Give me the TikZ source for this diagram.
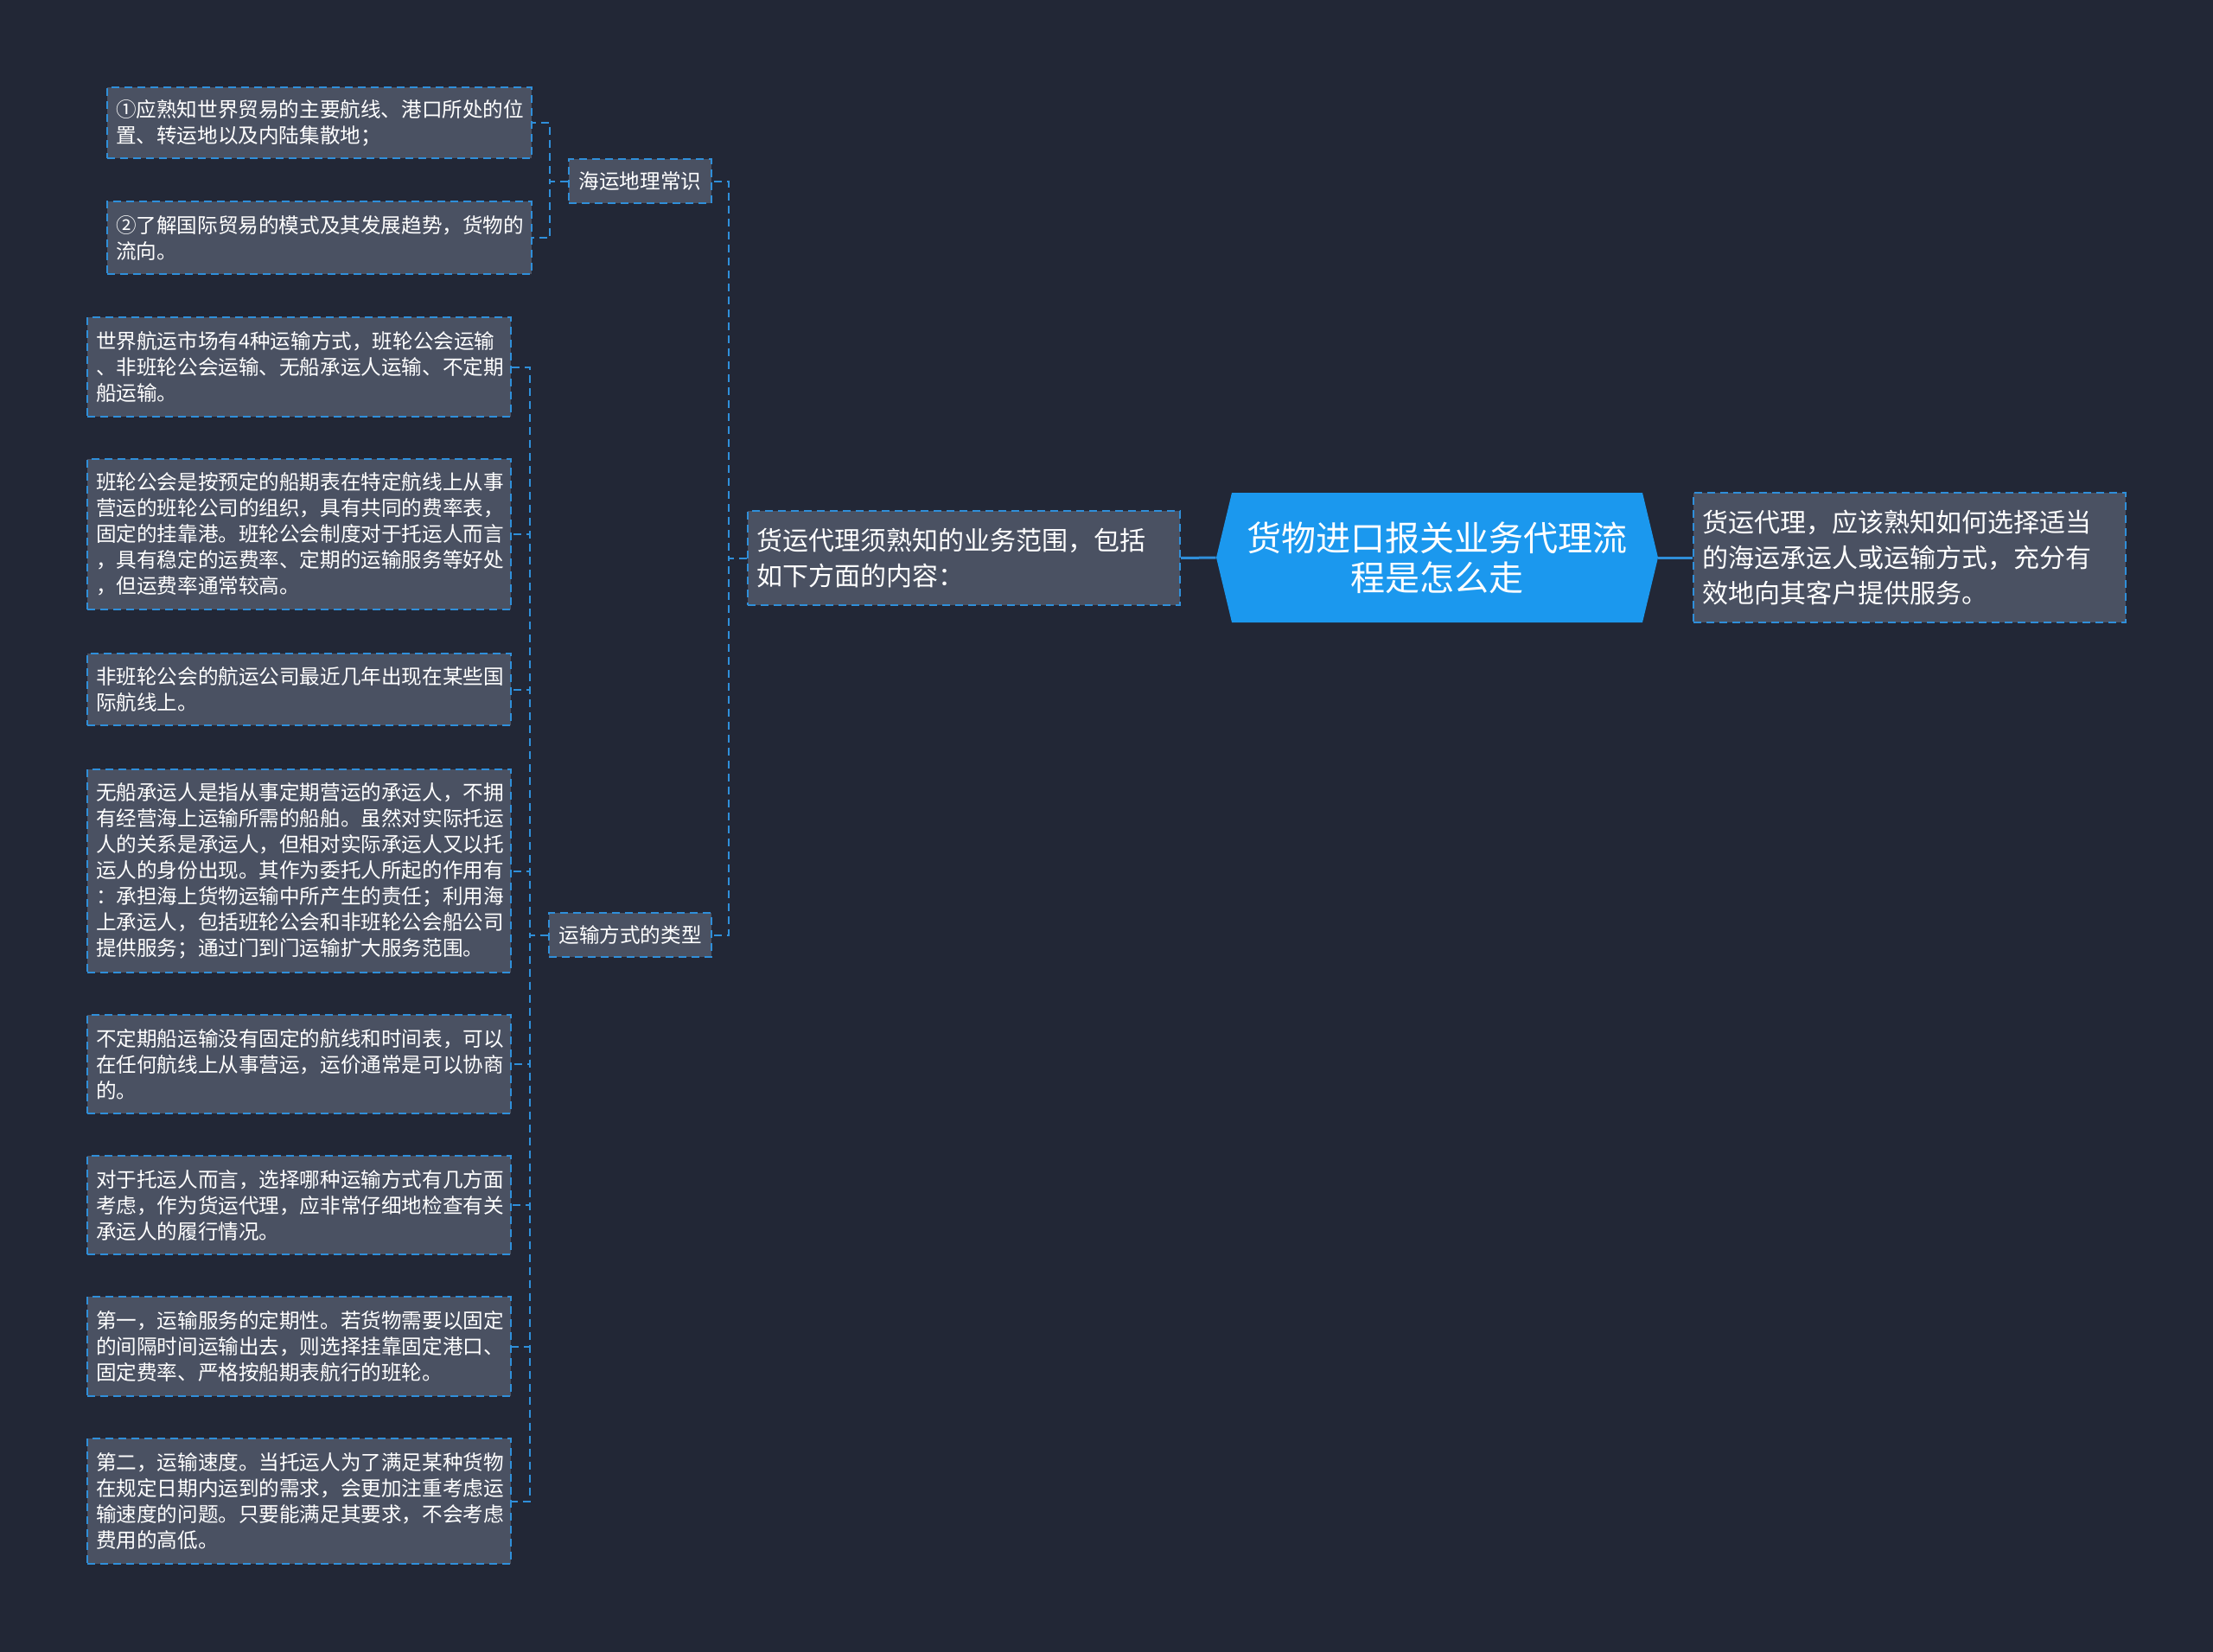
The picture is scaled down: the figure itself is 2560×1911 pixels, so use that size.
\documentclass[tikz,border=0pt]{standalone}
\usepackage{fontspec}
\setmainfont{Noto Sans CJK SC}
\usepackage{xcolor}
\usepackage{tikz}
\usetikzlibrary{shapes.symbols}

\definecolor{bgdark}{HTML}{222736}
\definecolor{boxgray}{HTML}{4A5162}
\definecolor{lineblue}{HTML}{2F8FDA}
\definecolor{rootblue}{HTML}{1B98EE}

\begin{document}
\begin{tikzpicture}[x=0.5pt, y=-0.5pt,
    leaf/.style={draw=lineblue, dash pattern=on 4.5pt off 3pt, line width=1pt, fill=boxgray, text=white,
      inner xsep=5pt, align=left, font=\fontsize{11.8pt}{15pt}\selectfont},
    topic/.style={draw=lineblue, dash pattern=on 4.5pt off 3pt, line width=1pt, fill=boxgray, text=white,
      inner xsep=5pt, align=left, font=\fontsize{15pt}{20.5pt}\selectfont},
    rootnode/.style={signal, signal to=west and east, signal pointer angle=153,
      fill=rootblue, text=white, align=center, inner sep=0pt,
      minimum width=255.5pt, minimum height=75pt,
      font=\fontsize{20pt}{23pt}\selectfont},
    conn/.style={draw=lineblue, dash pattern=on 4.5pt off 3pt, line width=1pt},
    mainconn/.style={draw=lineblue, line width=1.5pt},
  ]
    \fill[bgdark] (0,0) rectangle (2560,1911);

    \node[rootnode] (root) at (1662.5,645) {货物进口报关业务代理流\\程是怎么走};
    \node[topic, text width=240pt, minimum height=54.5pt] (scope) at (1115,645.5)
      {货运代理须熟知的业务范围，包括\\如下方面的内容：};
    \node[topic, text width=240pt, minimum height=75pt] (agent) at (2209,645)
      {货运代理，应该熟知如何选择适当\\的海运承运人或运输方式，充分有\\效地向其客户提供服务。};

    \node[leaf, minimum width=82.5pt, minimum height=25.5pt] (sea) at (740.5,209.5) {海运地理常识};
    \node[leaf, minimum width=94pt, minimum height=25.5pt] (mode) at (729,1081.5) {运输方式的类型};

    % sea knowledge
    \node[leaf, text width=235.5pt, minimum height=41pt] (s1) at (369.5,142)
      {①应熟知世界贸易的主要航线、港口所处的位\\置、转运地以及内陆集散地；};
    \node[leaf, text width=235.5pt, minimum height=42pt] (s2) at (369.5,275)
      {②了解国际贸易的模式及其发展趋势，货物的\\流向。};

    % transport modes
    \node[leaf, text width=235pt, minimum height=57.5pt] (m1) at (346,424.5)
      {世界航运市场有4种运输方式，班轮公会运输\\、非班轮公会运输、无船承运人运输、不定期\\船运输。};
    \node[leaf, text width=235pt, minimum height=87pt] (m2) at (346,618)
      {班轮公会是按预定的船期表在特定航线上从事\\营运的班轮公司的组织，具有共同的费率表，\\固定的挂靠港。班轮公会制度对于托运人而言\\，具有稳定的运费率、定期的运输服务等好处\\，但运费率通常较高。};
    \node[leaf, text width=235pt, minimum height=41.5pt] (m3) at (346,797.5)
      {非班轮公会的航运公司最近几年出现在某些国\\际航线上。};
    \node[leaf, text width=235pt, minimum height=117.5pt] (m4) at (346,1007.5)
      {无船承运人是指从事定期营运的承运人，不拥\\有经营海上运输所需的船舶。虽然对实际托运\\人的关系是承运人，但相对实际承运人又以托\\运人的身份出现。其作为委托人所起的作用有\\：承担海上货物运输中所产生的责任；利用海\\上承运人，包括班轮公会和非班轮公会船公司\\提供服务；通过门到门运输扩大服务范围。};
    \node[leaf, text width=235pt, minimum height=57pt] (m5) at (346,1231)
      {不定期船运输没有固定的航线和时间表，可以\\在任何航线上从事营运，运价通常是可以协商\\的。};
    \node[leaf, text width=235pt, minimum height=57pt] (m6) at (346,1394)
      {对于托运人而言，选择哪种运输方式有几方面\\考虑，作为货运代理，应非常仔细地检查有关\\承运人的履行情况。};
    \node[leaf, text width=235pt, minimum height=57.5pt] (m7) at (346,1557.5)
      {第一，运输服务的定期性。若货物需要以固定\\的间隔时间运输出去，则选择挂靠固定港口、\\固定费率、严格按船期表航行的班轮。};
    \node[leaf, text width=235pt, minimum height=72.5pt] (m8) at (346,1736.5)
      {第二，运输速度。当托运人为了满足某种货物\\在规定日期内运到的需求，会更加注重考虑运\\输速度的问题。只要能满足其要求，不会考虑\\费用的高低。};

    \draw[mainconn] (root.west) -- (scope.east);
    \draw[mainconn] (root.east) -- (agent.west);

    \foreach \n in {sea, mode}
      \draw[conn] (scope.west) -- ++(-21,0) |- (\n.east);
    \foreach \n in {s1, s2}
      \draw[conn] (sea.west) -- ++(-21,0) |- (\n.east);
    \foreach \n in {m1, m2, m3, m4, m5, m6, m7, m8}
      \draw[conn] (mode.west) -- ++(-21,0) |- (\n.east);
  \end{tikzpicture}
\end{document}
